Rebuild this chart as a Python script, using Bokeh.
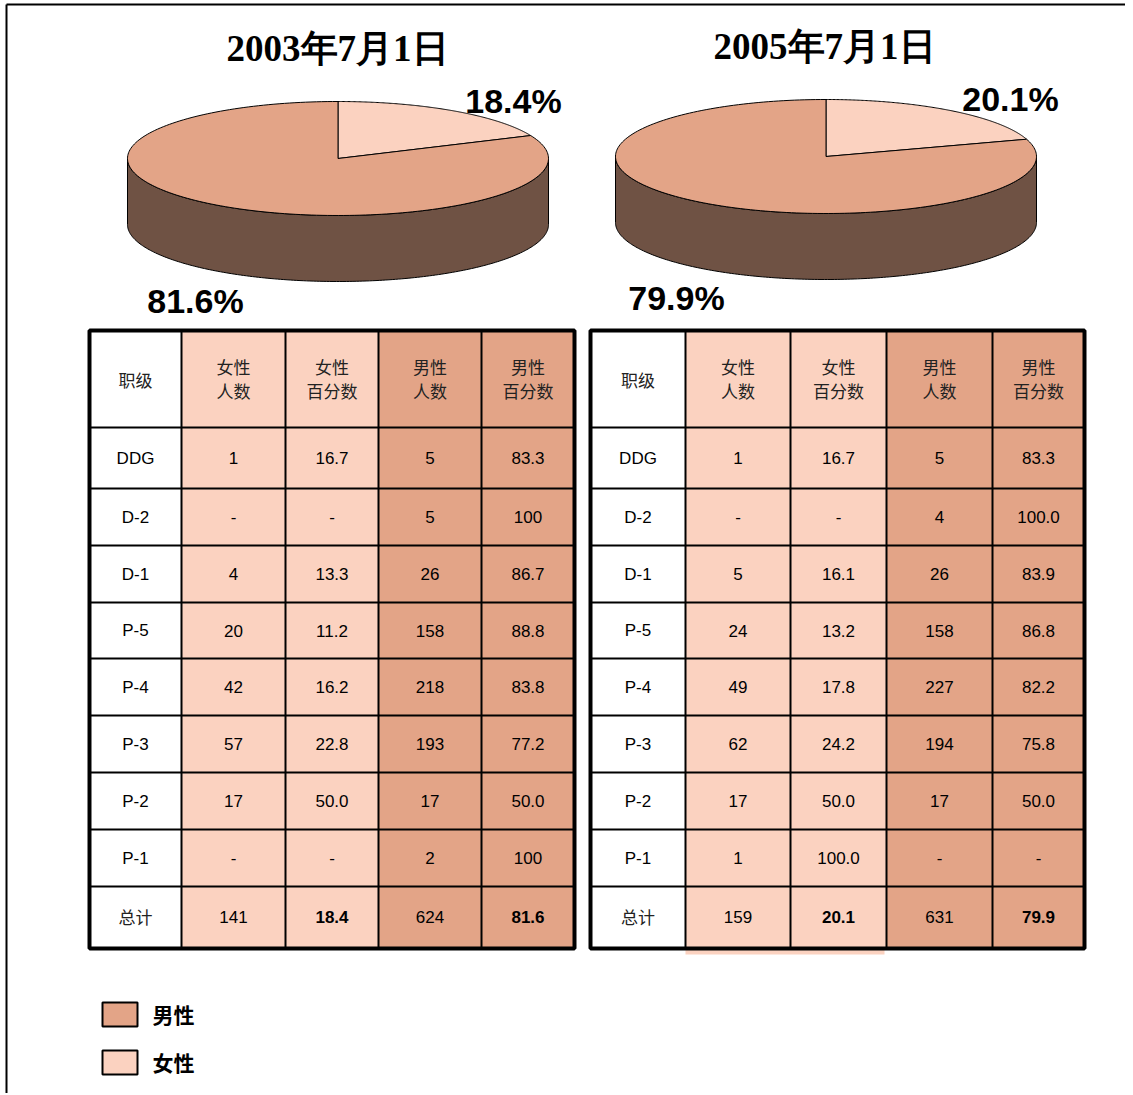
import numpy as np
from bokeh.plotting import figure
from bokeh.models import Range1d
from bokeh.core.properties import value
from bokeh.embed import file_html
from bokeh.resources import INLINE

# ---------------- data ----------------
years = ["2003年7月1日", "2005年7月1日"]
female_share = [18.4, 20.1]
male_share = [81.6, 79.9]

grades = ["DDG", "D-2", "D-1", "P-5", "P-4", "P-3", "P-2", "P-1"]

f_num_2003 = ["1", "-", "4", "20", "42", "57", "17", "-"]
f_pct_2003 = ["16.7", "-", "13.3", "11.2", "16.2", "22.8", "50.0", "-"]
m_num_2003 = ["5", "5", "26", "158", "218", "193", "17", "2"]
m_pct_2003 = ["83.3", "100", "86.7", "88.8", "83.8", "77.2", "50.0", "100"]
total_2003 = ["141", "18.4", "624", "81.6"]

f_num_2005 = ["1", "-", "5", "24", "49", "62", "17", "1"]
f_pct_2005 = ["16.7", "-", "16.1", "13.2", "17.8", "24.2", "50.0", "100.0"]
m_num_2005 = ["5", "4", "26", "158", "227", "194", "17", "-"]
m_pct_2005 = ["83.3", "100.0", "83.9", "86.8", "82.2", "75.8", "50.0", "-"]
total_2005 = ["159", "20.1", "631", "79.9"]

header_first = "职级"
header_cols = [["女性", "人数"], ["女性", "百分数"], ["男性", "人数"], ["男性", "百分数"]]
total_label = "总计"
legend_labels = ["男性", "女性"]

# ---------------- style ----------------
MALE = "#E3A487"
FEMALE = "#FBD2C0"
MALE_SIDE = "#6F5244"
FEMALE_SIDE = "#B8907E"
NUM_FONT = value("Liberation Sans")
CJK_FONT = value("Noto Sans CJK SC")
TITLE_FONT = value("Liberation Serif")

W, H = 1125, 1093
p = figure(width=W, height=H, x_range=Range1d(0, W), y_range=Range1d(H, 0),
           output_backend="svg", toolbar_location=None, min_border=0,
           x_axis_type=None, y_axis_type=None)
p.outline_line_color = None
p.background_fill_color = "white"
p.border_fill_color = "white"

# frame lines
p.segment(x0=[6, 6], y0=[4, 4], x1=[1125, 6], y1=[4, 1093], line_color="black", line_width=2)


# ---------------- 3D pies ----------------
def pie3d(cx, cy, a, b, depth, shares, colors, side_colors):
    fr = np.array(shares, dtype=float) / sum(shares)
    start = 90.0
    sides_x, sides_y, sides_c = [], [], []
    tops_x, tops_y, tops_c = [], [], []
    for f, c, sc in zip(fr, colors, side_colors):
        end = start - f * 360.0
        t = np.radians(np.linspace(start, end, 200))
        tops_x.append(np.concatenate([[cx], cx + a * np.cos(t), [cx]]))
        tops_y.append(np.concatenate([[cy], cy - b * np.sin(t), [cy]]))
        tops_c.append(c)
        lo, hi = max(end, -180.0), min(start, 0.0)
        if hi > lo:
            ts = np.radians(np.linspace(lo, hi, 200))
            xs = cx + a * np.cos(ts)
            ys = cy - b * np.sin(ts)
            sides_x.append(np.concatenate([xs, xs[::-1]]))
            sides_y.append(np.concatenate([ys, ys[::-1] + depth]))
            sides_c.append(sc)
        start = end
    p.patches(xs=sides_x, ys=sides_y, fill_color=sides_c, line_color="black", line_width=1)
    p.patches(xs=tops_x, ys=tops_y, fill_color=tops_c, line_color="black", line_width=1)


pie_geo = [(337.5, 158, 210.5, 57, 66), (825.5, 156, 210.5, 57, 66)]
for (cx, cy, a, b, d), fs, ms in zip(pie_geo, female_share, male_share):
    pie3d(cx, cy, a, b, d, [fs, ms], [FEMALE, MALE], [FEMALE_SIDE, MALE_SIDE])

# titles
p.text(x=[337, 824], y=[48, 46], text=years, text_font=TITLE_FONT, text_font_style="bold",
       text_font_size="37px", text_align="center", text_baseline="middle", text_color="black")

# percentage labels
p.text(x=[513, 1010], y=[100, 98], text=[f"{v:.1f}%" for v in female_share],
       text_font=NUM_FONT, text_font_style="bold", text_font_size="34px",
       text_align="center", text_baseline="middle", text_color="black")
p.text(x=[195, 676], y=[300, 297], text=[f"{v:.1f}%" for v in male_share],
       text_font=NUM_FONT, text_font_style="bold", text_font_size="34px",
       text_align="center", text_baseline="middle", text_color="black")

# ---------------- tables ----------------
rows_y = [330, 427, 488, 545, 602, 658, 715, 772, 829, 886, 948]


def table(xb, cols, totals, strip=False):
    fills = ["white", FEMALE, FEMALE, MALE, MALE]
    top, bot = rows_y[0], rows_y[-1]
    p.quad(left=xb[:-1], right=xb[1:], top=[top] * 5, bottom=[bot] * 5,
           fill_color=fills, line_color=None)
    if strip:
        p.quad(left=[xb[1]], right=[xb[3] - 2], top=[bot], bottom=[bot + 6],
               fill_color=FEMALE, line_color=None)
    # inner lines
    p.segment(x0=xb[1:-1], y0=[top] * 4, x1=xb[1:-1], y1=[bot] * 4, line_color="black", line_width=2)
    p.segment(x0=[xb[0]] * 9, y0=rows_y[1:-1], x1=[xb[-1]] * 9, y1=rows_y[1:-1],
              line_color="black", line_width=2)
    # outer border
    p.quad(left=[xb[0]], right=[xb[-1]], top=[top], bottom=[bot], fill_color=None,
           line_color="black", line_width=4)
    cxs = [(xb[i] + xb[i + 1]) / 2 for i in range(5)]
    # header
    p.text(x=[cxs[0]], y=[379], text=[header_first], text_font=CJK_FONT, text_font_size="17px",
           text_align="center", text_baseline="middle", text_color="#222222")
    p.text(x=cxs[1:], y=[366] * 4, text=[h[0] for h in header_cols], text_font=CJK_FONT,
           text_font_size="17px", text_align="center", text_baseline="middle", text_color="#222222")
    p.text(x=cxs[1:], y=[390] * 4, text=[h[1] for h in header_cols], text_font=CJK_FONT,
           text_font_size="17px", text_align="center", text_baseline="middle", text_color="#222222")
    # body
    rc = [(rows_y[i] + rows_y[i + 1]) / 2 for i in range(1, 9)]
    p.text(x=[cxs[0]] * 8, y=rc, text=grades, text_font=NUM_FONT, text_font_size="17px",
           text_align="center", text_baseline="middle", text_color="black")
    for j, col in enumerate(cols):
        p.text(x=[cxs[j + 1]] * 8, y=rc, text=col, text_font=NUM_FONT, text_font_size="17px",
               text_align="center", text_baseline="middle", text_color="black")
    # totals row
    ty = (rows_y[9] + rows_y[10]) / 2 - 1
    p.text(x=[cxs[0]], y=[ty], text=[total_label], text_font=CJK_FONT, text_font_size="17px",
           text_align="center", text_baseline="middle", text_color="#222222")
    p.text(x=[cxs[1], cxs[3]], y=[ty, ty], text=[totals[0], totals[2]], text_font=NUM_FONT,
           text_font_size="17px", text_align="center", text_baseline="middle", text_color="black")
    p.text(x=[cxs[2], cxs[4]], y=[ty, ty], text=[totals[1], totals[3]], text_font=NUM_FONT,
           text_font_style="bold", text_font_size="17px", text_align="center",
           text_baseline="middle", text_color="black")


table([89, 181, 285, 378, 481, 574], [f_num_2003, f_pct_2003, m_num_2003, m_pct_2003], total_2003)
table([590, 685, 790, 886, 992, 1084], [f_num_2005, f_pct_2005, m_num_2005, m_pct_2005], total_2005,
      strip=True)

# ---------------- legend ----------------
p.quad(left=[102, 102], right=[137, 137], top=[1002, 1050], bottom=[1026, 1074],
       fill_color=[MALE, FEMALE], line_color="black", line_width=2)
p.text(x=[152, 152], y=[1013, 1061], text=legend_labels, text_font=CJK_FONT,
       text_font_style="bold", text_font_size="21px", text_align="left",
       text_baseline="middle", text_color="black")

open("out.html", "w").write(file_html(p, INLINE))
